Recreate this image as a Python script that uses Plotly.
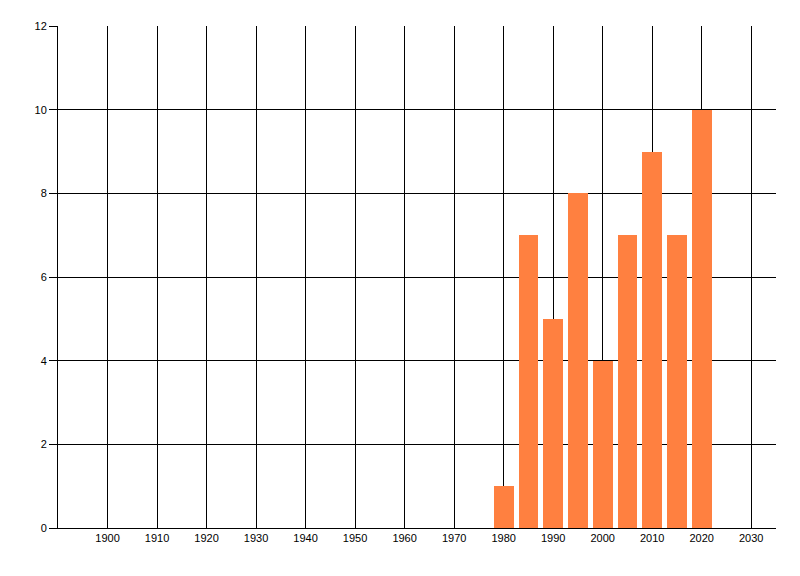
import plotly.graph_objects as go

# годы и значения столбцов
years = [1980, 1985, 1990, 1995, 2000, 2005, 2010, 2015, 2020]
counts = [1, 7, 5, 8, 4, 7, 9, 7, 10]

x_ticks = list(range(1900, 2031, 10))
y_ticks = list(range(0, 13, 2))

fig = go.Figure(go.Bar(x=years, y=counts, width=4, marker_color='#FF8040',
                       marker_line_width=0))

# страница рисуется с отступом body 8px, поэтому поля сдвинуты
fig.update_layout(
    width=800, height=576,
    margin=dict(l=50, r=32, t=18, b=56),
    plot_bgcolor='white', paper_bgcolor='white',
    font=dict(family='Liberation Sans, Arial', size=11, color='black'),
    showlegend=False,
    bargap=0,
)
fig.update_xaxes(
    range=[1890, 2035], tickvals=x_ticks, ticktext=[str(v) for v in x_ticks],
    showgrid=True, gridcolor='black', gridwidth=1,
    showline=True, linecolor='black', linewidth=1,
    ticks='', zeroline=False,
)
fig.update_yaxes(
    range=[0, 12], tickvals=y_ticks,
    showgrid=True, gridcolor='black', gridwidth=1,
    showline=True, linecolor='black', linewidth=1,
    ticks='outside', ticklen=8, tickcolor='black', zeroline=False,
)

fig.write_html("out.html")
